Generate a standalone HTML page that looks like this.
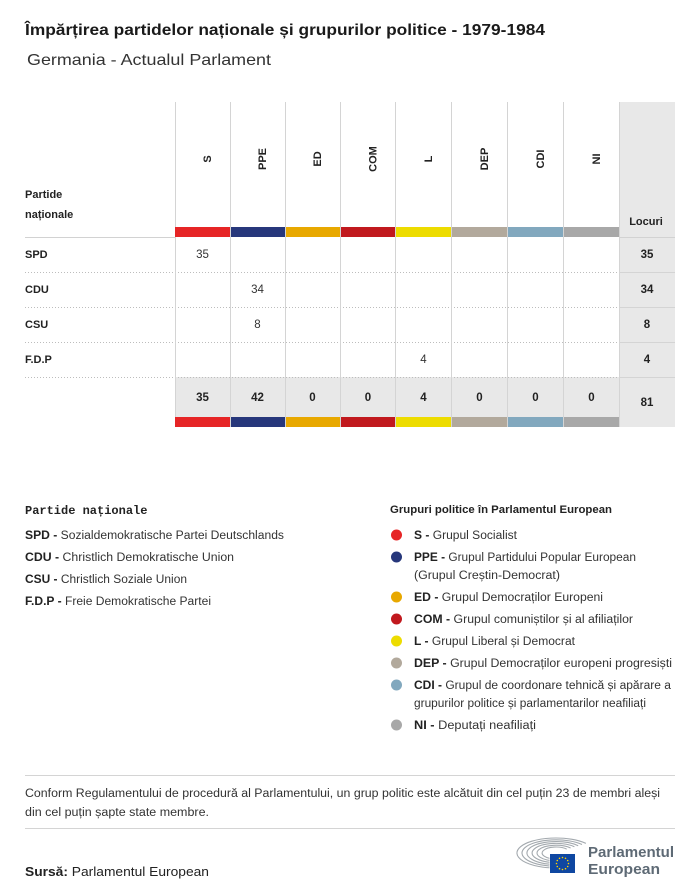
<!DOCTYPE html>
<html><head><meta charset="utf-8"><style>
html,body{margin:0;padding:0;background:#fff;}
svg{display:block;}
text{font-family:"Liberation Sans",sans-serif;}
.b{font-weight:bold;}
</style></head><body>
<svg width="700" height="896" viewBox="0 0 700 896" xmlns="http://www.w3.org/2000/svg">
<rect width="700" height="896" fill="#fff"/>
<!-- Title -->
<text x="25" y="35" font-size="16" font-weight="bold" fill="#1a1a1a" textLength="520" lengthAdjust="spacingAndGlyphs">Împărțirea partidelor naționale și grupurilor politice - 1979-1984</text>
<text x="27" y="65" font-size="16" fill="#333" textLength="244" lengthAdjust="spacingAndGlyphs">Germania - Actualul Parlament</text>

<!-- Table backgrounds -->
<rect x="619.5" y="102" width="55.5" height="325" fill="#e8e8e8"/>
<rect x="175" y="377" width="500" height="40" fill="#e8e8e8"/>

<!-- Horizontal lines -->
<line x1="25" y1="237.5" x2="175" y2="237.5" stroke="#d2d2d2" stroke-width="1"/>
<line x1="619.5" y1="237.5" x2="675" y2="237.5" stroke="#d2d2d2" stroke-width="1"/>
<g stroke="#bdbdbd" stroke-width="1" stroke-dasharray="1,2">
<line x1="25" y1="272.5" x2="619.5" y2="272.5"/>
<line x1="25" y1="307.5" x2="619.5" y2="307.5"/>
<line x1="25" y1="342.5" x2="619.5" y2="342.5"/>
<line x1="25" y1="377.5" x2="619.5" y2="377.5"/>
</g>
<g stroke="#d4d4d4" stroke-width="1">
<line x1="619.5" y1="272.5" x2="675" y2="272.5"/>
<line x1="619.5" y1="307.5" x2="675" y2="307.5"/>
<line x1="619.5" y1="342.5" x2="675" y2="342.5"/>
<line x1="619.5" y1="377.5" x2="675" y2="377.5"/>
</g>

<!-- Vertical lines -->
<g stroke="#d4d4d4" stroke-width="1">
<line x1="175.5" y1="102" x2="175.5" y2="427"/>
<line x1="230.5" y1="102" x2="230.5" y2="427"/>
<line x1="285.5" y1="102" x2="285.5" y2="427"/>
<line x1="340.5" y1="102" x2="340.5" y2="427"/>
<line x1="395.5" y1="102" x2="395.5" y2="427"/>
<line x1="451.5" y1="102" x2="451.5" y2="427"/>
<line x1="507.5" y1="102" x2="507.5" y2="427"/>
<line x1="563.5" y1="102" x2="563.5" y2="427"/>
<line x1="619.5" y1="102" x2="619.5" y2="427"/>
</g>

<!-- Color bars top -->
<g>
<rect x="175" y="227" width="55" height="10" fill="#e62526"/>
<rect x="231" y="227" width="54" height="10" fill="#27377b"/>
<rect x="286" y="227" width="54" height="10" fill="#e8a800"/>
<rect x="341" y="227" width="54" height="10" fill="#c1191e"/>
<rect x="396" y="227" width="55" height="10" fill="#eddc00"/>
<rect x="452" y="227" width="55" height="10" fill="#b2a99c"/>
<rect x="508" y="227" width="55" height="10" fill="#82a8be"/>
<rect x="564" y="227" width="55" height="10" fill="#a8a8a8"/>
</g>
<!-- Color bars bottom -->
<g>
<rect x="175" y="417" width="55" height="10" fill="#e62526"/>
<rect x="231" y="417" width="54" height="10" fill="#27377b"/>
<rect x="286" y="417" width="54" height="10" fill="#e8a800"/>
<rect x="341" y="417" width="54" height="10" fill="#c1191e"/>
<rect x="396" y="417" width="55" height="10" fill="#eddc00"/>
<rect x="452" y="417" width="55" height="10" fill="#b2a99c"/>
<rect x="508" y="417" width="55" height="10" fill="#82a8be"/>
<rect x="564" y="417" width="55" height="10" fill="#a8a8a8"/>
</g>

<!-- Header rotated labels -->
<g font-size="11" font-weight="bold" fill="#222" text-anchor="middle">
<text transform="translate(211,159) rotate(-90)">S</text>
<text transform="translate(266,159) rotate(-90)">PPE</text>
<text transform="translate(321,159) rotate(-90)">ED</text>
<text transform="translate(376.5,159) rotate(-90)">COM</text>
<text transform="translate(432,159) rotate(-90)">L</text>
<text transform="translate(488,159) rotate(-90)">DEP</text>
<text transform="translate(544,159) rotate(-90)">CDI</text>
<text transform="translate(600,159) rotate(-90)">NI</text>
</g>

<g font-size="11" font-weight="bold" fill="#222">
<text x="25" y="198">Partide</text>
<text x="25" y="218">naționale</text>
<text x="646" y="225" text-anchor="middle">Locuri</text>
<text x="25" y="258">SPD</text>
<text x="25" y="293">CDU</text>
<text x="25" y="328">CSU</text>
<text x="25" y="363">F.D.P</text>
</g>

<!-- Values -->
<g font-size="11.5" fill="#333" text-anchor="middle">
<text x="202.5" y="258">35</text>
<text x="257.5" y="293">34</text>
<text x="257.5" y="328">8</text>
<text x="423.5" y="363">4</text>
</g>
<g font-size="11.5" font-weight="bold" fill="#222" text-anchor="middle">
<text x="647" y="258">35</text>
<text x="647" y="293">34</text>
<text x="647" y="328">8</text>
<text x="647" y="363">4</text>
<text x="202.5" y="401">35</text>
<text x="257.5" y="401">42</text>
<text x="312.5" y="401">0</text>
<text x="368" y="401">0</text>
<text x="423.5" y="401">4</text>
<text x="479.5" y="401">0</text>
<text x="535.5" y="401">0</text>
<text x="591.5" y="401">0</text>
<text x="647" y="406">81</text>
</g>

<!-- Legend left -->
<text x="25" y="514" font-size="12" font-weight="bold" fill="#222" style="font-family:'Liberation Mono',monospace">Partide naționale</text>
<g font-size="11.5" fill="#333">
<text x="25" y="539" textLength="259" lengthAdjust="spacingAndGlyphs"><tspan font-weight="bold" fill="#222">SPD - </tspan>Sozialdemokratische Partei Deutschlands</text>
<text x="25" y="561" textLength="209" lengthAdjust="spacingAndGlyphs"><tspan font-weight="bold" fill="#222">CDU - </tspan>Christlich Demokratische Union</text>
<text x="25" y="583" textLength="162" lengthAdjust="spacingAndGlyphs"><tspan font-weight="bold" fill="#222">CSU - </tspan>Christlich Soziale Union</text>
<text x="25" y="605" textLength="186" lengthAdjust="spacingAndGlyphs"><tspan font-weight="bold" fill="#222">F.D.P - </tspan>Freie Demokratische Partei</text>
</g>

<!-- Legend right -->
<text x="390" y="513" font-size="11" font-weight="bold" fill="#222" textLength="222" lengthAdjust="spacingAndGlyphs">Grupuri politice în Parlamentul European</text>
<g>
<circle cx="396.5" cy="535" r="5.5" fill="#e62526"/>
<circle cx="396.5" cy="557" r="5.5" fill="#27377b"/>
<circle cx="396.5" cy="597" r="5.5" fill="#e8a800"/>
<circle cx="396.5" cy="619" r="5.5" fill="#c1191e"/>
<circle cx="396.5" cy="641" r="5.5" fill="#eddc00"/>
<circle cx="396.5" cy="663" r="5.5" fill="#b2a99c"/>
<circle cx="396.5" cy="685" r="5.5" fill="#82a8be"/>
<circle cx="396.5" cy="725" r="5.5" fill="#a8a8a8"/>
</g>
<g font-size="11.5" fill="#333">
<text x="414" y="539" textLength="103" lengthAdjust="spacingAndGlyphs"><tspan font-weight="bold" fill="#222">S - </tspan>Grupul Socialist</text>
<text x="414" y="561" textLength="222" lengthAdjust="spacingAndGlyphs"><tspan font-weight="bold" fill="#222">PPE - </tspan>Grupul Partidului Popular European</text>
<text x="414" y="579" textLength="146" lengthAdjust="spacingAndGlyphs">(Grupul Creștin-Democrat)</text>
<text x="414" y="601" textLength="189" lengthAdjust="spacingAndGlyphs"><tspan font-weight="bold" fill="#222">ED - </tspan>Grupul Democraților Europeni</text>
<text x="414" y="623" textLength="219" lengthAdjust="spacingAndGlyphs"><tspan font-weight="bold" fill="#222">COM - </tspan>Grupul comuniștilor și al afiliaților</text>
<text x="414" y="645" textLength="161" lengthAdjust="spacingAndGlyphs"><tspan font-weight="bold" fill="#222">L - </tspan>Grupul Liberal și Democrat</text>
<text x="414" y="667" textLength="258" lengthAdjust="spacingAndGlyphs"><tspan font-weight="bold" fill="#222">DEP - </tspan>Grupul Democraților europeni progresiști</text>
<text x="414" y="689" textLength="257" lengthAdjust="spacingAndGlyphs"><tspan font-weight="bold" fill="#222">CDI - </tspan>Grupul de coordonare tehnică și apărare a</text>
<text x="414" y="707" textLength="232" lengthAdjust="spacingAndGlyphs">grupurilor politice și parlamentarilor neafiliați</text>
<text x="414" y="729" textLength="122" lengthAdjust="spacingAndGlyphs"><tspan font-weight="bold" fill="#222">NI - </tspan>Deputați neafiliați</text>
</g>

<!-- Footer -->
<line x1="25" y1="775.5" x2="675" y2="775.5" stroke="#d4d4d4" stroke-width="1"/>
<g font-size="11.5" fill="#333">
<text x="25" y="797" textLength="635" lengthAdjust="spacingAndGlyphs">Conform Regulamentului de procedură al Parlamentului, un grup politic este alcătuit din cel puțin 23 de membri aleși</text>
<text x="25" y="816" textLength="184" lengthAdjust="spacingAndGlyphs">din cel puțin șapte state membre.</text>
</g>
<line x1="25" y1="828.5" x2="675" y2="828.5" stroke="#d4d4d4" stroke-width="1"/>
<text x="25" y="876" font-size="13" fill="#222" textLength="184" lengthAdjust="spacingAndGlyphs"><tspan font-weight="bold">Sursă:</tspan> Parlamentul European</text>

<!-- Logo -->
<g fill="none" stroke="#a3a9ae" stroke-width="1.1">
<path d="M556,868 A39,15 0 1 1 585.9,843.4"/>
<path d="M556,866.2 A34,13.2 0 1 1 582,844.5"/>
<path d="M556,864.4 A29,11.4 0 1 1 578.2,845.7"/>
<path d="M556,862.6 A24,9.6 0 1 1 574.4,846.8"/>
<path d="M556,860.8 A19,7.8 0 1 1 570.6,848"/>
<path d="M556,859 A14,6 0 1 1 566.7,849.1"/>
</g>
<rect x="549.5" y="853.5" width="26" height="20" fill="#fff"/>
<rect x="550" y="854" width="25" height="19" fill="#0f47a1"/>
<g fill="#ffd200">
<circle cx="562.5" cy="857.5" r="0.8"/>
<circle cx="565.5" cy="858.3" r="0.8"/>
<circle cx="567.7" cy="860.5" r="0.8"/>
<circle cx="568.5" cy="863.5" r="0.8"/>
<circle cx="567.7" cy="866.5" r="0.8"/>
<circle cx="565.5" cy="868.7" r="0.8"/>
<circle cx="562.5" cy="869.5" r="0.8"/>
<circle cx="559.5" cy="868.7" r="0.8"/>
<circle cx="557.3" cy="866.5" r="0.8"/>
<circle cx="556.5" cy="863.5" r="0.8"/>
<circle cx="557.3" cy="860.5" r="0.8"/>
<circle cx="559.5" cy="858.3" r="0.8"/>
</g>
<g font-size="15" font-weight="bold" fill="#5e6a75">
<text x="588" y="857" textLength="86" lengthAdjust="spacingAndGlyphs">Parlamentul</text>
<text x="588" y="874" textLength="72" lengthAdjust="spacingAndGlyphs">European</text>
</g>
</svg>
</body></html>
